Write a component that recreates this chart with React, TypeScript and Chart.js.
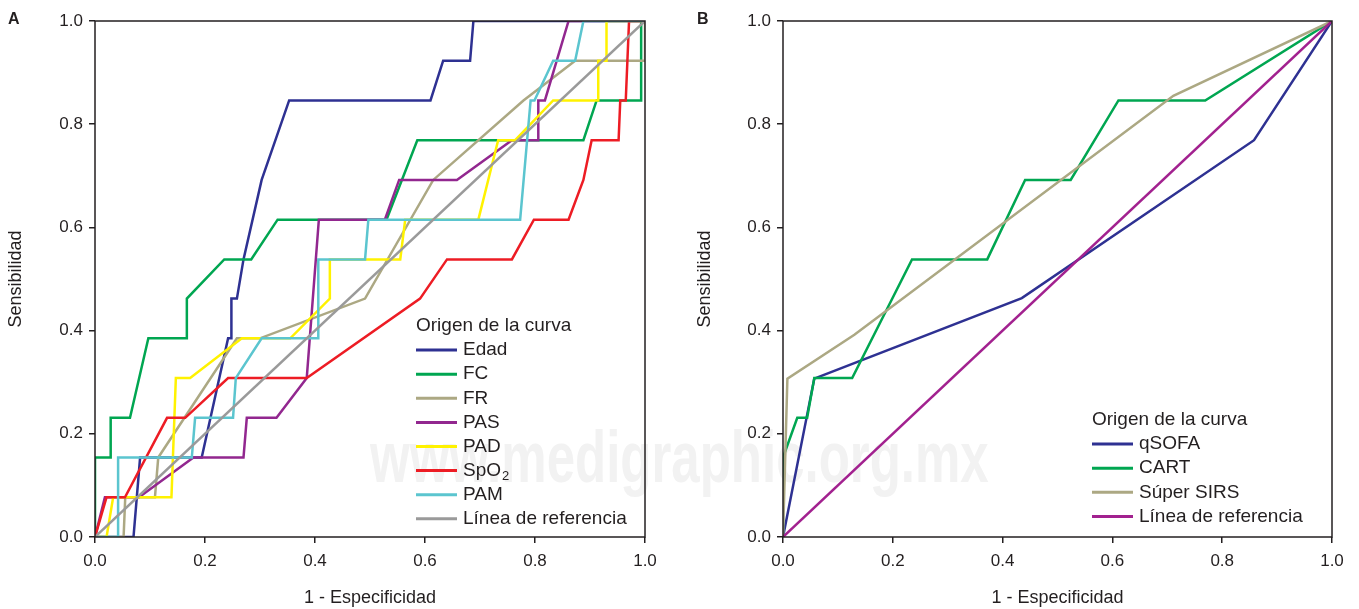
import React, { useEffect, useRef } from 'react';
import { Chart, registerables } from 'chart.js';

Chart.register(...registerables);

const FONT = '"Liberation Sans", Arial, Helvetica, sans-serif';
const TEXT = '#231F20';

// ---------- Panel A data ----------
const edadX = [0, 0.070, 0.082, 0.194, 0.242, 0.248, 0.248, 0.258, 0.270, 0.303, 0.353, 0.610, 0.633, 0.682, 0.688, 1];
const edadY = [0, 0, 0.154, 0.154, 0.385, 0.385, 0.462, 0.462, 0.538, 0.692, 0.846, 0.846, 0.923, 0.923, 1, 1];

const fcX = [0, 0, 0.0285, 0.0285, 0.0636, 0.097, 0.167, 0.167, 0.235, 0.284, 0.332, 0.530, 0.586, 0.888, 0.912, 0.993, 0.993, 1];
const fcY = [0, 0.154, 0.154, 0.231, 0.231, 0.385, 0.385, 0.462, 0.538, 0.538, 0.615, 0.615, 0.769, 0.769, 0.846, 0.846, 1, 1];

const frX = [0, 0.052, 0.055, 0.109, 0.115, 0.258, 0.300, 0.491, 0.615, 0.779, 0.873, 1, 1];
const frY = [0, 0, 0.077, 0.077, 0.154, 0.385, 0.385, 0.462, 0.692, 0.846, 0.923, 0.923, 1];

const pasX = [0, 0.018, 0.080, 0.179, 0.270, 0.276, 0.330, 0.385, 0.407, 0.527, 0.553, 0.658, 0.758, 0.806, 0.806, 0.818, 0.861, 1];
const pasY = [0, 0.077, 0.077, 0.154, 0.154, 0.231, 0.231, 0.308, 0.615, 0.615, 0.692, 0.692, 0.769, 0.769, 0.846, 0.846, 1, 1];

const padX = [0, 0.021, 0.033, 0.139, 0.147, 0.173, 0.267, 0.355, 0.427, 0.427, 0.555, 0.564, 0.697, 0.733, 0.764, 0.833, 0.915, 0.915, 0.930, 0.930, 1];
const padY = [0, 0, 0.077, 0.077, 0.308, 0.308, 0.385, 0.385, 0.462, 0.538, 0.538, 0.615, 0.615, 0.769, 0.769, 0.846, 0.846, 0.923, 0.923, 1, 1];

const spo2X = [0, 0.021, 0.0545, 0.131, 0.164, 0.242, 0.385, 0.591, 0.640, 0.758, 0.798, 0.861, 0.888, 0.903, 0.952, 0.955, 0.965, 0.971, 1];
const spo2Y = [0, 0.077, 0.077, 0.231, 0.231, 0.308, 0.308, 0.462, 0.538, 0.538, 0.615, 0.615, 0.692, 0.769, 0.769, 0.846, 0.846, 1, 1];

const pamX = [0, 0.042, 0.042, 0.176, 0.182, 0.251, 0.256, 0.303, 0.406, 0.406, 0.491, 0.497, 0.773, 0.792, 0.799, 0.833, 0.873, 0.888, 1];
const pamY = [0, 0, 0.154, 0.154, 0.231, 0.231, 0.308, 0.385, 0.385, 0.538, 0.538, 0.615, 0.615, 0.846, 0.846, 0.923, 0.923, 1, 1];

const refX = [0, 1];
const refY = [0, 1];

const labelsA = ['Edad', 'FC', 'FR', 'PAS', 'PAD', 'SpO₂', 'PAM', 'Línea de referencia'];
const colorsA = ['#2E3192', '#00A651', '#ACA883', '#92278F', '#FFF200', '#ED1C24', '#5BC5CF', '#9A9A9A'];

// ---------- Panel B data ----------
const qsofaX = [0, 0.057, 0.435, 0.858, 1];
const qsofaY = [0, 0.307, 0.463, 0.769, 1];

const cartX = [0, 0, 0.026, 0.044, 0.057, 0.126, 0.235, 0.372, 0.441, 0.524, 0.611, 0.769, 1];
const cartY = [0, 0.154, 0.231, 0.231, 0.308, 0.308, 0.538, 0.538, 0.692, 0.692, 0.846, 0.846, 1];

const sirsX = [0, 0.008, 0.130, 0.711, 1];
const sirsY = [0, 0.307, 0.392, 0.855, 1];

const labelsB = ['qSOFA', 'CART', 'Súper SIRS', 'Línea de referencia'];
const colorsB = ['#2E3192', '#00A651', '#ACA883', '#A2218F'];

const axisTicks = [0, 0.2, 0.4, 0.6, 0.8, 1.0];

function pts(xs: number[], ys: number[]) {
  return xs.map((x, i) => ({ x, y: ys[i] }));
}

const rocPlugin = {
  id: 'rocDecor',
  afterDraw(chart: any, _args: any, opts: any) {
    const { ctx, chartArea } = chart;
    ctx.save();
    ctx.strokeStyle = TEXT;
    ctx.lineWidth = 1.5;
    ctx.strokeRect(chartArea.left, chartArea.top, chartArea.right - chartArea.left, chartArea.bottom - chartArea.top);
    ctx.fillStyle = TEXT;
    ctx.font = `bold 16px ${FONT}`;
    ctx.textBaseline = 'middle';
    ctx.textAlign = 'left';
    ctx.fillText(opts.letter, opts.letterX, 20);
    const lx = chartArea.left + opts.dx;
    let y = chartArea.top + opts.dy;
    ctx.font = `19px ${FONT}`;
    ctx.fillText(opts.title, lx, y);
    chart.data.datasets.forEach((ds: any) => {
      y += opts.gap;
      ctx.strokeStyle = ds.borderColor;
      ctx.lineWidth = 3;
      ctx.beginPath();
      ctx.moveTo(lx, y);
      ctx.lineTo(lx + 41, y);
      ctx.stroke();
      const label: string = ds.label;
      ctx.font = `19px ${FONT}`;
      if (label.includes('₂')) {
        const main = label.replace('₂', '');
        ctx.fillText(main, lx + 47, y);
        const w = ctx.measureText(main).width;
        ctx.font = `13px ${FONT}`;
        ctx.fillText('2', lx + 47 + w + 1, y + 6);
      } else {
        ctx.fillText(label, lx + 47, y);
      }
    });
    ctx.restore();
  },
};

function buildConfig(datasets: any[], yWidth: number, pad: any, decor: any, yTitlePad: number) {
  const n = datasets.length;
  return {
    type: 'line',
    data: {
      datasets: datasets.map((d, i) => ({
        label: d.label,
        data: d.data,
        borderColor: d.color,
        backgroundColor: d.color,
        borderWidth: 2.5,
        pointRadius: 0,
        fill: false,
        tension: 0,
        order: n - 1 - i,
      })),
    },
    options: {
      animation: false,
      responsive: false,
      events: [],
      layout: { padding: pad },
      plugins: {
        legend: { display: false },
        tooltip: { enabled: false },
        rocDecor: decor,
      },
      scales: {
        x: {
          type: 'linear',
          min: 0,
          max: 1,
          afterBuildTicks: (s: any) => { s.ticks = axisTicks.map((v) => ({ value: v })); },
          afterFit: (s: any) => { s.height = 72; },
          ticks: {
            callback: (v: any) => Number(v).toFixed(1),
            font: { family: FONT, size: 17 },
            color: TEXT,
            padding: 8,
            maxRotation: 0,
          },
          grid: { drawOnChartArea: false, drawTicks: true, tickLength: 6, color: TEXT, lineWidth: 1.5 },
          border: { display: false },
          title: {
            display: true,
            text: '1 - Especificidad',
            font: { family: FONT, size: 18 },
            color: TEXT,
            padding: { top: 0, bottom: 0 },
          },
        },
        y: {
          type: 'linear',
          min: 0,
          max: 1,
          afterBuildTicks: (s: any) => { s.ticks = axisTicks.map((v) => ({ value: v })); },
          afterFit: (s: any) => { s.width = yWidth; },
          ticks: {
            callback: (v: any) => Number(v).toFixed(1),
            font: { family: FONT, size: 17 },
            color: TEXT,
            padding: 6,
          },
          grid: { drawOnChartArea: false, drawTicks: true, tickLength: 6, color: TEXT, lineWidth: 1.5 },
          border: { display: false },
          title: {
            display: true,
            text: 'Sensibilidad',
            font: { family: FONT, size: 18 },
            color: TEXT,
            padding: { top: yTitlePad, bottom: 0 },
          },
        },
      },
    },
    plugins: [rocPlugin],
  } as any;
}

function RocChart(props: { config: any; width: number; height: number; left: number }) {
  const ref = useRef<HTMLCanvasElement | null>(null);
  useEffect(() => {
    if (!ref.current) return;
    const chart = new Chart(ref.current, props.config);
    return () => chart.destroy();
  }, []);
  return (
    <canvas
      ref={ref}
      width={props.width}
      height={props.height}
      style={{ position: 'absolute', left: props.left, top: 0, width: props.width, height: props.height, zIndex: 1 }}
    />
  );
}

export default function App() {
  const seriesA = [
    pts(edadX, edadY), pts(fcX, fcY), pts(frX, frY), pts(pasX, pasY),
    pts(padX, padY), pts(spo2X, spo2Y), pts(pamX, pamY), pts(refX, refY),
  ];
  const dsA = seriesA.map((data, i) => ({ label: labelsA[i], color: colorsA[i], data }));
  const seriesB = [pts(qsofaX, qsofaY), pts(cartX, cartY), pts(sirsX, sirsY), pts(refX, refY)];
  const dsB = seriesB.map((data, i) => ({ label: labelsB[i], color: colorsB[i], data }));

  const configA = buildConfig(
    dsA, 95, { top: 21, right: 35, bottom: 0, left: 0 },
    { letter: 'A', letterX: 8, title: 'Origen de la curva', dx: 321, dy: 305, gap: 24.1 }, 5,
  );
  const configB = buildConfig(
    dsB, 103, { top: 21, right: 27, bottom: 0, left: 0 },
    { letter: 'B', letterX: 17, title: 'Origen de la curva', dx: 309, dy: 399, gap: 24.1 }, 14,
  );

  return (
    <div style={{ position: 'fixed', left: 0, top: 0, width: 1359, height: 609, background: '#fff', overflow: 'hidden' }}>
      <div
        style={{
          position: 'absolute', left: 370, top: 439, fontFamily: FONT, fontWeight: 'bold', fontSize: 51,
          lineHeight: '51px', color: '#F2F2F2', whiteSpace: 'nowrap', transform: 'scaleY(1.4)',
          transformOrigin: '0 43px', zIndex: 0,
        }}
      >
        www.medigraphic.org.mx
      </div>
      <RocChart config={configA} width={680} height={609} left={0} />
      <RocChart config={configB} width={679} height={609} left={680} />
    </div>
  );
}
